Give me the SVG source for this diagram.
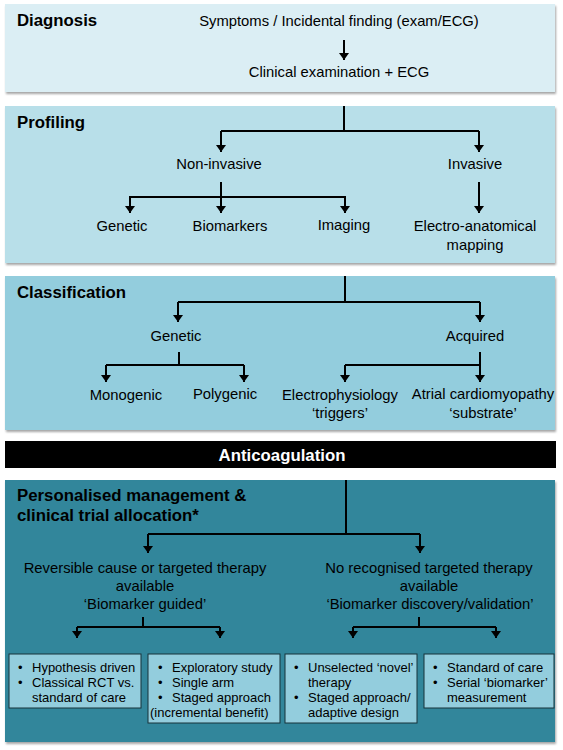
<svg xmlns="http://www.w3.org/2000/svg" width="563" height="750" viewBox="0 0 563 750">
<style>
.t{font-family:"Liberation Sans",Arial,sans-serif;font-size:14.8px;fill:#000;text-anchor:middle}
.h{font-family:"Liberation Sans",Arial,sans-serif;font-size:16.8px;font-weight:bold;fill:#000}
.b{font-family:"Liberation Sans",Arial,sans-serif;font-size:13px;fill:#000}
.ln{fill:none;stroke:#000;stroke-width:2}
.bx{fill:#93cddd;stroke:#17323b;stroke-width:1}
</style>
<defs>
<marker id="ah2" markerUnits="userSpaceOnUse" markerWidth="7" markerHeight="10" refX="7" refY="5" orient="auto" viewBox="0 0 7 10">
<path d="M0,0 L7,5 L0,10 Z" fill="#000"/>
</marker>
<filter id="sh" x="-5%" y="-5%" width="110%" height="115%">
<feDropShadow dx="1" dy="2" stdDeviation="1.2" flood-color="#000" flood-opacity="0.35"/>
</filter>
</defs>

<g id="panel-diagnosis">
<rect x="5" y="4" width="550" height="88" fill="#dbeef4" filter="url(#sh)"/>
<text class="h" x="17" y="26">Diagnosis</text>
<text class="t" x="339" y="26">Symptoms / Incidental finding (exam/ECG)</text>
<text class="t" x="339" y="77">Clinical examination + ECG</text>
</g>

<g id="panel-profiling">
<rect x="5" y="106" width="550" height="157" fill="#b8dfe9" filter="url(#sh)"/>
<text class="h" x="17" y="128">Profiling</text>
<text class="t" x="219" y="169">Non-invasive</text>
<text class="t" x="475" y="169">Invasive</text>
<text class="t" x="122" y="231">Genetic</text>
<text class="t" x="230" y="231">Biomarkers</text>
<text class="t" x="344" y="230">Imaging</text>
<text class="t" x="475" y="231">Electro-anatomical</text>
<text class="t" x="475" y="250">mapping</text>
</g>

<g id="panel-classification">
<rect x="5" y="276" width="550" height="154" fill="#93cddd" filter="url(#sh)"/>
<text class="h" x="17" y="298">Classification</text>
<text class="t" x="176" y="341">Genetic</text>
<text class="t" x="475" y="341">Acquired</text>
<text class="t" x="126" y="400">Monogenic</text>
<text class="t" x="225" y="399">Polygenic</text>
<text class="t" x="340" y="400">Electrophysiology</text>
<text class="t" x="340" y="418">‘triggers’</text>
<text class="t" x="483" y="399">Atrial cardiomyopathy</text>
<text class="t" x="483" y="418">‘substrate’</text>
</g>

<g id="bar-anticoagulation">
<rect x="5" y="441" width="551" height="27" fill="#000"/>
<text class="h" x="282" y="461" style="fill:#fff;text-anchor:middle">Anticoagulation</text>
</g>

<g id="panel-management">
<rect x="5" y="480" width="550" height="262" fill="#31869b" filter="url(#sh)"/>
<text class="h" x="17" y="501">Personalised management &amp;</text>
<text class="h" x="17" y="521">clinical trial allocation*</text>
<text class="t" x="145" y="573">Reversible cause or targeted therapy</text>
<text class="t" x="145" y="591">available</text>
<text class="t" x="145" y="609">‘Biomarker guided’</text>
<text class="t" x="429" y="573">No recognised targeted therapy</text>
<text class="t" x="429" y="591">available</text>
<text class="t" x="430" y="609">‘Biomarker discovery/validation’</text>
</g>

<g id="box-hypothesis">
<rect class="bx" x="9" y="654" width="132" height="54"/>
<text class="b" x="18" y="671.5">•</text><text class="b" x="32" y="671.5">Hypothesis driven</text>
<text class="b" x="18" y="686.7">•</text><text class="b" x="32" y="686.7">Classical RCT vs.</text>
<text class="b" x="32" y="701.9">standard of care</text>
</g>

<g id="box-exploratory">
<rect class="bx" x="148" y="654" width="132" height="69"/>
<text class="b" x="158" y="671.5">•</text><text class="b" x="172" y="671.5">Exploratory study</text>
<text class="b" x="158" y="686.7">•</text><text class="b" x="172" y="686.7">Single arm</text>
<text class="b" x="158" y="701.9">•</text><text class="b" x="172" y="701.9">Staged approach</text>
<text class="b" x="150" y="717.1">(incremental benefit)</text>
</g>

<g id="box-unselected">
<rect class="bx" x="285" y="654" width="132" height="69"/>
<text class="b" x="294" y="671.5">•</text><text class="b" x="308" y="671.5">Unselected ‘novel’</text>
<text class="b" x="308" y="686.7">therapy</text>
<text class="b" x="294" y="701.9">•</text><text class="b" x="308" y="701.9">Staged approach/</text>
<text class="b" x="308" y="717.1">adaptive design</text>
</g>

<g id="box-standard">
<rect class="bx" x="424" y="654" width="130" height="54"/>
<text class="b" x="433" y="671.5">•</text><text class="b" x="447" y="671.5">Standard of care</text>
<text class="b" x="433" y="686.7">•</text><text class="b" x="447" y="686.7">Serial ‘biomarker’</text>
<text class="b" x="447" y="701.9">measurement</text>
</g>

<g id="connectors">
<path class="ln" d="M344,40 V60" marker-end="url(#ah2)"/>
<path class="ln" d="M344,106 V131 M221,131 H479"/>
<path class="ln" d="M221,131 V152" marker-end="url(#ah2)"/>
<path class="ln" d="M479,131 V152" marker-end="url(#ah2)"/>
<path class="ln" d="M221,182 V213" marker-end="url(#ah2)"/>
<path class="ln" d="M130,197 H345"/>
<path class="ln" d="M130,196 V213" marker-end="url(#ah2)"/>
<path class="ln" d="M345,196 V213" marker-end="url(#ah2)"/>
<path class="ln" d="M479,182 V213" marker-end="url(#ah2)"/>
<path class="ln" d="M345,276 V302 M178,302 H480"/>
<path class="ln" d="M178,302 V322" marker-end="url(#ah2)"/>
<path class="ln" d="M480,302 V322" marker-end="url(#ah2)"/>
<path class="ln" d="M179,352 V365 M106,365 H244"/>
<path class="ln" d="M106,365 V382" marker-end="url(#ah2)"/>
<path class="ln" d="M244,365 V382" marker-end="url(#ah2)"/>
<path class="ln" d="M480,352 V382" marker-end="url(#ah2)"/>
<path class="ln" d="M345,365 H480"/>
<path class="ln" d="M345,365 V382" marker-end="url(#ah2)"/>
<path class="ln" d="M346,480 V534 M148,534 H420"/>
<path class="ln" d="M148,534 V553" marker-end="url(#ah2)"/>
<path class="ln" d="M420,534 V553" marker-end="url(#ah2)"/>
<path class="ln" d="M143,617 V627 M77,627 H220"/>
<path class="ln" d="M77,627 V638" marker-end="url(#ah2)"/>
<path class="ln" d="M220,627 V638" marker-end="url(#ah2)"/>
<path class="ln" d="M419,617 V627 M353,627 H496"/>
<path class="ln" d="M353,627 V638" marker-end="url(#ah2)"/>
<path class="ln" d="M496,627 V638" marker-end="url(#ah2)"/>
</g>
</svg>
